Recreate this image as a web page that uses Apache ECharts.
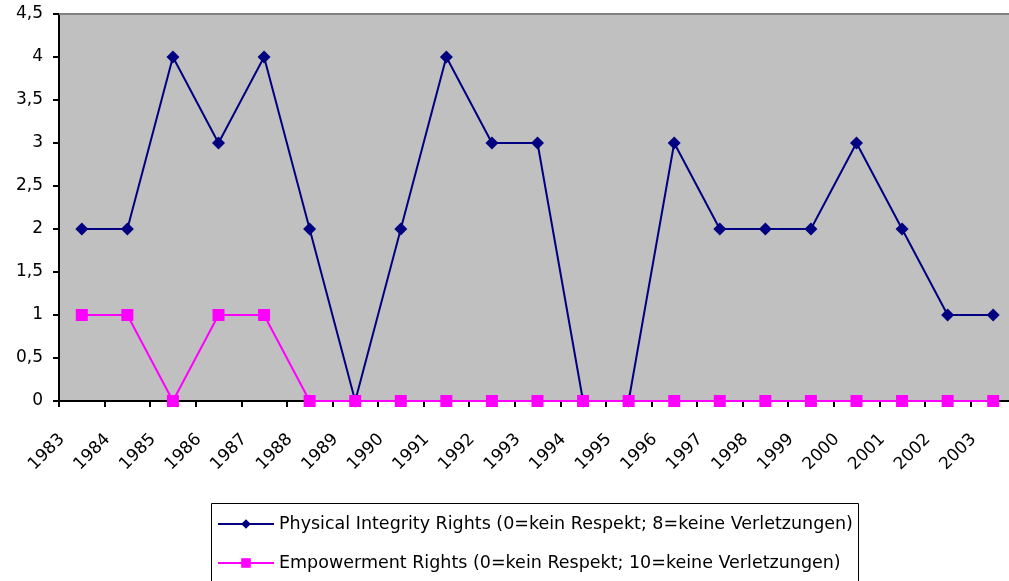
<!DOCTYPE html>
<html>
<head>
<meta charset="utf-8">
<script src="https://cdn.jsdelivr.net/npm/echarts@6/dist/echarts.min.js"></script>
<style>
html,body{margin:0;padding:0;background:#fff;overflow:hidden;width:1009px;height:581px;}
#chart{width:1016px;height:581px;}
</style>
</head>
<body>
<div id="chart"></div>
<script>
const years = ['1983','1984','1985','1986','1987','1988','1989','1990','1991','1992','1993','1994','1995','1996','1997','1998','1999','2000','2001','2002','2003'];
const physicalName = 'Physical Integrity Rights (0=kein Respekt; 8=keine Verletzungen)';
const physical = [2,2,4,3,4,2,0,2,4,3,3,0,0,3,2,2,2,3,2,1,1];
const empowermentName = 'Empowerment Rights (0=kein Respekt; 10=keine Verletzungen)';
const empowerment = [1,1,0,1,1,0,0,0,0,0,0,0,0,0,0,0,0,0,0,0,0];
const yTicks = {min: 0, max: 4.5, interval: 0.5};

const chart = echarts.init(document.getElementById('chart'));
const font = 'DejaVu Sans';
chart.setOption({
  animation: false,
  backgroundColor: '#fff',
  grid: {left: 59, top: 14, right: 0, bottom: 180, show: true, backgroundColor: '#C0C0C0', borderWidth: 0},
  graphic: [{
    type: 'rect', left: 211, top: 503, z: -1,
    shape: {width: 647, height: 90},
    style: {fill: '#fff', stroke: '#000', lineWidth: 1}
  }],
  legend: {
    orient: 'vertical', left: 212, top: 510,
    itemWidth: 56, itemHeight: 12, itemGap: 21,
    textStyle: {fontFamily: font, fontSize: 17.5, color: '#000'},
    data: [physicalName, empowermentName]
  },
  xAxis: [{
    type: 'category', data: years, boundaryGap: true,
    axisLine: {lineStyle: {color: '#000', width: 2}},
    axisTick: {show: true, length: 6, lineStyle: {color: '#000', width: 2}},
    axisLabel: {rotate: 45, fontFamily: font, fontSize: 17, color: '#000', margin: 16, padding: [0, 28, 0, 0]},
    splitLine: {show: false}
  }, {
    type: 'category', data: years, position: 'top',
    axisLine: {lineStyle: {color: '#808080', width: 2}},
    axisTick: {show: false}, axisLabel: {show: false}
  }],
  yAxis: {
    type: 'value', min: yTicks.min, max: yTicks.max, interval: yTicks.interval,
    axisLine: {show: true, lineStyle: {color: '#000', width: 2}},
    axisTick: {show: true, length: 6, lineStyle: {color: '#000', width: 2}},
    axisLabel: {fontFamily: font, fontSize: 17, color: '#000', margin: 16, padding: [5, 0, 0, 0],
      formatter: v => String(v).replace('.', ',')},
    splitLine: {show: false}
  },
  series: [{
    name: physicalName, type: 'line', data: physical,
    symbol: 'diamond', symbolSize: 13, color: '#000080',
    lineStyle: {color: '#000080', width: 2},
    itemStyle: {color: '#000080'}
  }, {
    name: empowermentName, type: 'line', data: empowerment,
    symbol: 'rect', symbolSize: 12, color: '#FF00FF',
    lineStyle: {color: '#FF00FF', width: 2},
    itemStyle: {color: '#FF00FF'}
  }]
});
</script>
</body>
</html>
